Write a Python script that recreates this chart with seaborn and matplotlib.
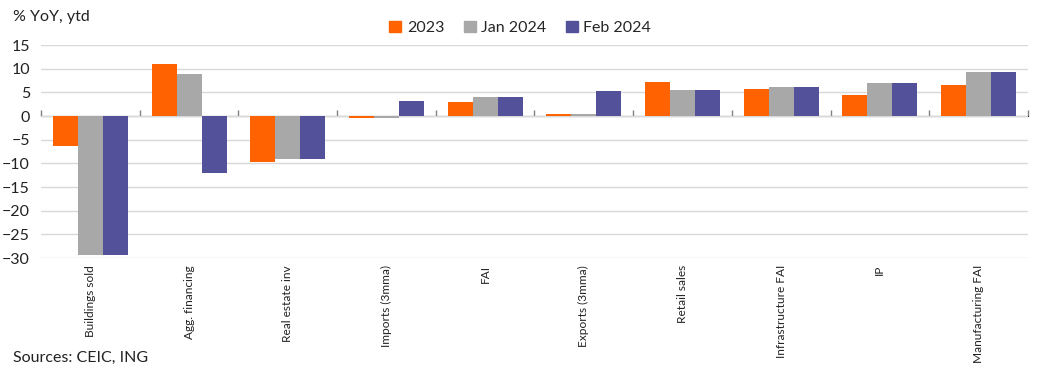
import pandas as pd
import seaborn as sns
import matplotlib.pyplot as plt
from matplotlib.patches import Patch

# ========================== DATA ==========================
categories = ['Buildings sold', 'Agg. financing', 'Real estate inv', 'Imports (3mma)', 'FAI',
              'Exports (3mma)', 'Retail sales', 'Infrastructure FAI', 'IP', 'Manufacturing FAI']
series = ['2023', 'Jan 2024', 'Feb 2024']
vals_2023 = [-6.4, 11.1, -9.6, -0.3, 3.0, 0.5, 7.3, 5.8, 4.5, 6.5]
vals_jan24 = [-29.3, 8.9, -9.0, -0.3, 4.1, 0.5, 5.6, 6.2, 7.1, 9.4]
vals_feb24 = [-29.3, -12.0, -9.0, 3.3, 4.1, 5.4, 5.6, 6.2, 7.1, 9.4]
colors = ['#FF6200', '#A8A8A8', '#525199']

df = pd.DataFrame({'category': categories * 3,
                   'series': sum([[s] * len(categories) for s in series], []),
                   'value': vals_2023 + vals_jan24 + vals_feb24})

# ========================== PLOT ==========================
sns.set_style('white')
plt.rcParams['font.family'] = ['Lato', 'DejaVu Sans']

fig = plt.figure(figsize=(10.51, 3.73), dpi=100)
ax = fig.add_axes([0.039, 0.308, 0.939, 0.571])

sns.barplot(data=df, x='category', y='value', hue='series', order=categories,
            hue_order=series, palette=colors, width=0.76, gap=0, saturation=1,
            legend=False, ax=ax, linewidth=0)

ax.set_ylim(-30, 15)
ax.set_xlim(-0.5, len(categories) - 0.5)
ax.set_yticks(range(-30, 16, 5))
ax.yaxis.grid(True, color='#D9D9D9', linewidth=1)
ax.set_axisbelow(True)
for s in ax.spines.values():
    s.set_visible(False)
ax.set_xlabel('')
ax.set_ylabel('')
ax.tick_params(axis='y', length=0, labelsize=11.5, colors='#222222', pad=8)
ax.tick_params(axis='x', length=0, labelsize=8.6, colors='#222222', rotation=90, pad=5)

# zero line with ticks between categories
zero = ax.secondary_xaxis(30 / 45)
zero.spines['bottom'].set_color('#808080')
zero.spines['bottom'].set_linewidth(1.2)
zero.set_xticks([i - 0.5 for i in range(len(categories) + 1)])
zero.set_xticklabels([])
zero.tick_params(axis='x', length=4, color='#808080', width=1)

handles = [Patch(color=c, label=s) for c, s in zip(colors, series)]
fig.legend(handles=handles, loc='center', bbox_to_anchor=(0.495, 0.925), ncol=3,
           frameon=False, fontsize=11.5, handlelength=0.75, handleheight=0.75,
           handletextpad=0.35, columnspacing=1.2)

fig.text(0.012, 0.955, '% YoY, ytd', fontsize=11.5, color='#222222', va='center')
fig.text(0.012, 0.04, 'Sources: CEIC, ING', fontsize=11.5, color='#222222', va='center')

plt.savefig('out.png', dpi=100)
